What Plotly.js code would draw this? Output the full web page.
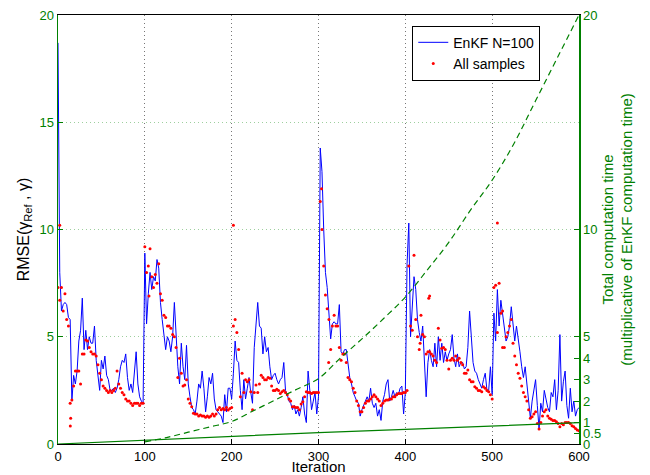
<!DOCTYPE html>
<html>
<head>
<meta charset="utf-8">
<script src="https://cdn.plot.ly/plotly-3.0.1.min.js"></script>
<style>html,body{margin:0;padding:0;background:#fff;}#chart{width:650px;height:475px;}</style>
</head>
<body>
<div id="chart"></div>
<script>
// EnKF N=100 RMSE, sampled every 2 iterations (0..600)
const enkfRMSE = [
 18.7, 8.0, 6.2, 6.5, 6.6, 6.5, 5.9, 5.8, 2.0, 3.2, 2.8, 3.4, 4.8, 5.3, 6.8, 4.4, 5.3, 4.4, 5.0, 4.7,
 4.7, 5.5, 3.9, 3.2, 2.5, 3.9, 3.5, 4.1, 3.2, 3.0, 2.5, 2.5, 2.6, 2.4, 2.6, 3.0, 3.6, 3.9, 3.8, 4.2,
 3.1, 2.5, 2.8, 2.4, 3.2, 4.3, 2.8, 2.2, 2.0, 1.9, 8.9,
 5.6, 7.0, 8.0, 7.2, 7.8, 7.6, 8.6, 8.2, 6.6, 5.8, 5.1, 4.4, 5.0, 4.8, 4.3, 5.0, 6.6, 5.0, 3.6, 2.8,
 4.7, 3.6, 3.0, 4.6, 2.8, 2.2, 1.7, 1.6, 1.4, 2.0, 2.8, 2.6, 3.4, 2.6, 1.5, 2.2, 3.1, 2.8, 3.3, 2.1,
 1.6, 1.5, 1.4, 1.3, 1.0, 2.3, 1.5, 2.6, 2.6, 2.1,
 3.3, 4.8, 3.9, 3.8, 2.5, 1.6, 3.0, 2.1, 2.6, 3.1, 2.4, 1.9, 4.5, 5.6, 6.6, 5.5, 5.4, 4.2, 5.0, 4.3,
 4.5, 3.6, 3.0, 3.2, 3.3, 3.0, 2.8, 3.0, 3.1, 3.8, 2.5, 2.3, 2.0, 1.9, 1.6, 1.8, 1.4, 1.6, 1.3, 1.7,
 2.2, 1.4, 1.0, 3.4, 2.4, 1.6, 2.0, 2.4, 1.4, 2.2,
 13.8, 12.7, 10.0, 8.0, 7.3, 6.3, 4.9, 5.6, 5.7, 5.6, 5.6, 6.5, 4.3, 4.2, 4.4, 4.4, 3.7, 3.1, 2.8, 2.4,
 2.2, 2.0, 1.9, 1.3, 1.6, 1.8, 2.0, 2.2, 2.0, 2.6, 1.9, 1.7, 1.9, 1.3, 1.6, 1.1, 2.0, 2.3, 2.8, 3.0,
 2.0, 2.2, 2.5, 2.2, 2.4, 2.3, 2.6, 2.7, 1.4, 2.4,
 8.4, 10.3, 5.0, 6.4, 7.8, 7.2, 5.8, 5.2, 4.8, 5.5, 3.8, 2.2, 3.8, 4.4, 3.9, 3.6, 4.7, 3.6, 5.0, 3.9,
 4.7, 3.8, 4.3, 3.9, 4.2, 4.4, 5.1, 4.0, 3.6, 4.2, 3.6, 3.8, 3.8, 3.5, 3.6, 4.5, 6.2, 5.0, 3.8, 3.4,
 3.3, 3.0, 2.8, 2.6, 3.0, 3.3, 2.5, 2.5, 3.6, 2.3,
 6.1, 4.8, 7.2, 5.5, 6.7, 6.1, 5.6, 4.8, 5.0, 5.5, 6.4, 5.5, 4.8, 5.5, 5.0, 4.3, 3.6, 3.1, 3.6, 2.7,
 2.05, 1.2, 2.0, 2.6, 3.0, 1.8, 0.7, 1.9, 1.5, 2.5, 2.0, 1.7, 1.5, 2.4, 2.2, 3.0, 1.6, 2.5, 5.1, 2.0,
 2.9, 3.4, 1.8, 1.2, 2.6, 1.5, 2.0, 1.3, 1.6, 1.7
];

// All samples, sampled every 2 iterations (0..600)
const sampleRMSE = [
 7.3, 6.7, 7.3, 6.2, 7.0, 5.8, 5.5, 1.9, 2.05, 2.7, 3.4, 3.4, 3.4, 2.8, 4.2, 4.2, 4.85, 4.8, 4.5, 4.3,
 4.2, 4.2, 4.1, 3.7, 3.3, 3.0, 2.7, 2.6, 2.5, 2.4, 2.5, 2.4, 2.5, 2.6, 3.4, 2.8, 2.6, 2.4, 2.3, 2.1,
 2.0, 2.0, 1.9, 1.8, 1.9, 1.9, 1.9, 1.8, 1.9, 1.9,
 9.2, 8.0, 8.3, 9.1, 7.8, 7.3, 7.9, 7.5, 8.4, 7.0, 6.7, 6.0, 5.9, 5.5, 5.5, 5.4, 5.1, 5.0, 4.5, 3.1,
 4.0, 3.3, 2.7, 2.75, 3.0, 2.1, 1.9, 1.74, 1.43, 1.4, 1.4, 1.3, 1.35, 1.3, 1.3, 1.25, 1.3, 1.25, 1.3, 1.4,
 1.3, 1.4, 1.6, 1.7, 1.6, 1.66, 1.6, 1.7, 1.58, 1.65,
 1.7, 5.5, 5.8, 5.2, 4.4, 2.2, 3.3, 2.4, 3.0, 2.9, 3.0, 2.44, 1.6, 2.4, 2.75, 2.4, 2.8, 3.2, 3.1, 3.0,
 3.0, 3.1, 3.06, 2.7, 2.5, 2.5, 2.55, 2.5, 2.36, 2.44, 2.5, 2.4, 2.3, 2.1, 2.0, 1.74, 1.74, 1.7, 1.7, 1.6,
 1.86, 1.97, 2.2, 2.44, 2.4, 2.4, 2.36, 2.4, 2.4, 2.4,
 2.4, 11.3, 10.0, 8.3, 6.95, 6.3, 5.8, 4.4, 5.5, 6.0, 5.5, 5.5, 4.5, 3.9, 4.2, 4.2, 3.8, 3.1, 3.0, 2.9,
 2.6, 2.4, 2.0, 1.8, 1.5, 1.5, 1.7, 1.9, 2.0, 2.0, 2.1, 2.2, 2.3, 2.2, 2.1, 2.0, 1.8, 1.9, 2.0, 2.05,
 2.05, 2.1, 2.1, 2.2, 2.2, 2.3, 2.35, 2.35, 2.36, 2.4,
 2.4, 2.5, 8.3, 5.5, 5.3, 8.8, 5.8, 5.0, 4.4, 6.0, 5.1, 5.0, 4.2, 4.3, 4.3, 4.2, 4.1, 3.9, 3.8, 5.4,
 4.85, 4.46, 4.5, 4.4, 3.9, 3.5, 3.9, 4.0, 3.9, 4.1, 3.9, 4.0, 3.8, 3.7, 3.3, 3.3, 3.45, 3.0, 2.9, 2.9,
 2.67, 2.6, 2.5, 2.5, 2.44, 2.67, 2.6, 2.5, 2.44, 2.3,
 2.1, 7.3, 7.4, 5.2, 7.5, 6.1, 6.2, 4.5, 5.0, 5.2, 5.5, 5.8, 4.7, 4.1, 3.7, 3.3, 3.06, 2.7, 2.4, 2.2,
 2.0, 1.6, 1.2, 1.27, 1.4, 1.5, 0.96, 0.7, 1.0, 1.3, 1.5, 1.6, 1.3, 1.2, 1.15, 1.1, 1.1, 1.04, 0.95, 0.8,
 0.95, 0.9, 1.0, 1.0, 1.0, 0.95, 0.85, 0.8, 0.72, 0.65, 0.62
];

// Extra samples lying off the regular grid
const extraSampleIter = [2, 14.2, 14.6, 104.8, 202, 303.5, 311.7, 417, 427, 428, 506, 512];
const extraSampleRMSE = [10.2, 0.84, 1.2, 6.9, 10.2, 11.9, 3.8, 4.7, 6.8, 6.9, 10.3, 4.5];

// Computation time (multiple of EnKF time)
const timeSolidIter = [0, 100, 200, 300, 400, 500, 600];
const timeSolid = [0, 0.18, 0.35, 0.53, 0.68, 0.84, 1.0];
const timeDashIter = [100, 125, 150, 175, 200, 225, 250, 275, 300, 325, 350, 375, 400, 425, 450, 475, 500, 525, 550, 575, 600];
const timeDash = [0.1, 0.3, 0.55, 0.8, 1.05, 1.55, 2.05, 2.55, 3.05, 4.0, 4.9, 5.85, 6.85, 8.1, 9.4, 10.9, 12.3, 14.0, 16.0, 18.0, 20.0];

const xTicks = [0, 100, 200, 300, 400, 500, 600];
const yTicks = [0, 5, 10, 15, 20];
const y2Ticks = [0, 0.5, 1, 2, 3, 4, 5, 10, 20];
const y2TickText = ['0', '0.5', '1', '2', '3', '4', '5', '10', '20'];

const enkfIter = enkfRMSE.map((_, i) => i * 2);
const sampleIter = sampleRMSE.map((_, i) => i * 2).concat(extraSampleIter);
const sampleAll = sampleRMSE.concat(extraSampleRMSE);

const green = '#008000';
const font = 'Liberation Sans, Arial, Helvetica, sans-serif';

const traces = [
  {x: enkfIter, y: enkfRMSE, type: 'scatter', mode: 'lines', name: 'EnKF N=100',
   line: {color: '#0000ff', width: 1}},
  {x: sampleIter, y: sampleAll, type: 'scatter', mode: 'markers', name: 'All samples',
   marker: {color: '#ff0000', size: 3}},
  {x: timeSolidIter, y: timeSolid, type: 'scatter', mode: 'lines', yaxis: 'y2', showlegend: false,
   line: {color: green, width: 1.2}},
  {x: timeDashIter, y: timeDash, type: 'scatter', mode: 'lines', yaxis: 'y2', showlegend: false,
   line: {color: green, width: 1.2, dash: '6px,4px', shape: 'spline'}}
];

const layout = {
  width: 650, height: 475,
  margin: {l: 58, r: 71, t: 15, b: 31},
  paper_bgcolor: '#fff', plot_bgcolor: '#fff',
  font: {family: font, size: 13, color: '#000'},
  showlegend: true,
  legend: {x: 0.68, y: 0.975, xanchor: 'left', yanchor: 'top', bgcolor: '#fff',
           bordercolor: '#000', borderwidth: 1, font: {size: 14, family: font}},
  xaxis: {range: [0, 600], tickvals: xTicks, ticks: 'inside', ticklen: 5, tickcolor: '#000',
          showline: true, linecolor: '#000', linewidth: 1, mirror: true,
          showgrid: true, gridcolor: '#777', griddash: '1px,3px', gridwidth: 1, zeroline: false,
          tickfont: {size: 13, color: '#000'},
          title: {text: 'Iteration', font: {size: 15, color: '#000'}, standoff: 5},
          automargin: false},
  yaxis: {range: [0, 20], tickvals: yTicks, ticks: 'inside', ticklen: 5, tickcolor: green,
          showline: true, linecolor: green, linewidth: 1.5, zeroline: false,
          showgrid: true, gridcolor: 'rgba(0,128,0,0.38)', griddash: '1px,3px', gridwidth: 1,
          tickfont: {size: 13, color: green},
          title: {text: 'RMSE(γ<sub>Ref</sub> , γ)', font: {size: 16, color: '#000'}, standoff: 6},
          automargin: false},
  yaxis2: {range: [0, 20], overlaying: 'y', side: 'right', tickvals: y2Ticks, ticktext: y2TickText,
           ticks: 'inside', ticklen: 5, tickcolor: green, showline: true, linecolor: green, linewidth: 1.5,
           showgrid: false, zeroline: false, tickfont: {size: 13, color: green},
           title: {text: 'Total computation time<br>(multiplicative of EnKF computation time)',
                   font: {size: 15, color: green}, standoff: 2},
           automargin: false}
};

Plotly.newPlot('chart', traces, layout, {staticPlot: true, displayModeBar: false});
</script>
</body>
</html>
